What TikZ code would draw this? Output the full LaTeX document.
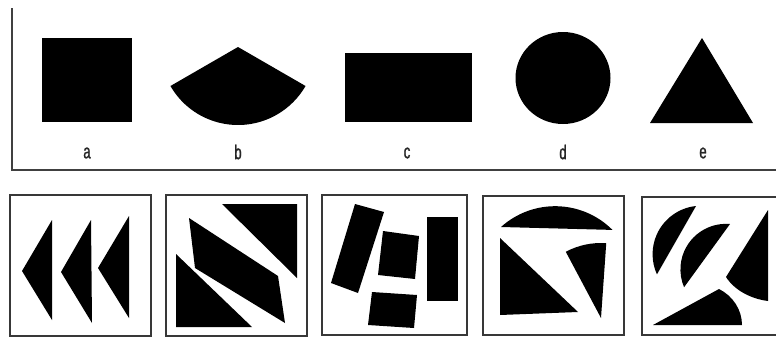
\documentclass[tikz,border=0pt]{standalone}
\usepackage{fontspec}
\newfontfamily\lblfont[FakeStretch=0.66,FakeBold=1.2]{Liberation Sans}
\begin{document}
\begin{tikzpicture}[x=1pt,y=-1pt,
  frameline/.style={draw=black!75,line width=1.8pt},
  boxline/.style={draw=black!78,line width=1.6pt},
  blackfill/.style={fill=black},
  lbl/.style={font=\lblfont\fontsize{20}{20}\selectfont,inner sep=0pt,anchor=center,text=black!85}]
\useasboundingbox (0,0) rectangle (776,338);
\clip (0,0) rectangle (776,338);
% top frame
\coordinate (ft) at (12,8);
\coordinate (fc) at (12,170);
\coordinate (fr) at (776,170);
\draw[frameline] (ft) -- (fc) -- (fr);
% top shapes
\fill[blackfill] (42,38) rectangle (132,122);
\fill[blackfill] (238,47) -- ++(150:78) arc[start angle=150,end angle=30,radius=78] -- cycle;
\fill[blackfill] (345,53) rectangle (472,122);
\fill[blackfill] (563,78) ellipse[x radius=47.5,y radius=46];
\fill[blackfill] (702,38) -- (753,123) -- (650,123) -- cycle;
% labels
\node[lbl] (la) at (87,153) {a};
\node[lbl] (lb) at (238,152) {b};
\node[lbl] (lc) at (407,153) {c};
\node[lbl] (ld) at (563,152) {d};
\node[lbl] (le) at (703,153) {e};
% box 1
\draw[boxline] (10,195) rectangle (151,336);
\fill[blackfill] (22,271) -- (52,220) -- (52,320) -- cycle;
\fill[blackfill] (61,272) -- (91,220) -- (92,323) -- cycle;
\fill[blackfill] (98,268) -- (129,216) -- (129,318) -- cycle;
% box 2
\draw[boxline] (166,195) rectangle (307,336);
\fill[blackfill] (222,204) -- (297,204) -- (297,278) -- cycle;
\fill[blackfill] (189,218) -- (278,276) -- (285,323) -- (195,268) -- cycle;
\fill[blackfill] (176,254) -- (252,327) -- (176,327) -- cycle;
% box 3
\draw[boxline] (322,195) rectangle (467,335);
\fill[blackfill] (355,204) -- (384,212) -- (358,293) -- (331,283) -- cycle;
\fill[blackfill] (383,231) -- (419,236) -- (415,279) -- (378,275) -- cycle;
\fill[blackfill] (427,217) -- (458,217) -- (458,301) -- (427,301) -- cycle;
\fill[blackfill] (372,292) -- (417,295) -- (414,328) -- (368,325) -- cycle;
% box 4
\draw[boxline] (483,196) rectangle (624,335);
\fill[blackfill] (501,227) arc[start angle=-132,end angle=-45,radius=81] -- cycle;
\fill[blackfill] (500,238) -- (578,312) -- (500,315) -- cycle;
\fill[blackfill] (601,318) -- ++(-118:75) arc[start angle=-118,end angle=-86,radius=75] -- cycle;
% box 5
\draw[boxline] (642,197) rectangle (786,335);
\fill[blackfill] (696,206) arc[start angle=264,end angle=155.5,radius=48.5] -- cycle;
\fill[blackfill] (730,224) arc[start angle=-85,end angle=-203,radius=45.6] -- cycle;
\fill[blackfill] (726,277) -- (768,210) -- (768,301) .. controls (752,299) and (735,291) .. (726,277) -- cycle;
\fill[blackfill] (653,325) -- (719,289) .. controls (733,296) and (742,310) .. (742,325) -- cycle;
\end{tikzpicture}
\end{document}
